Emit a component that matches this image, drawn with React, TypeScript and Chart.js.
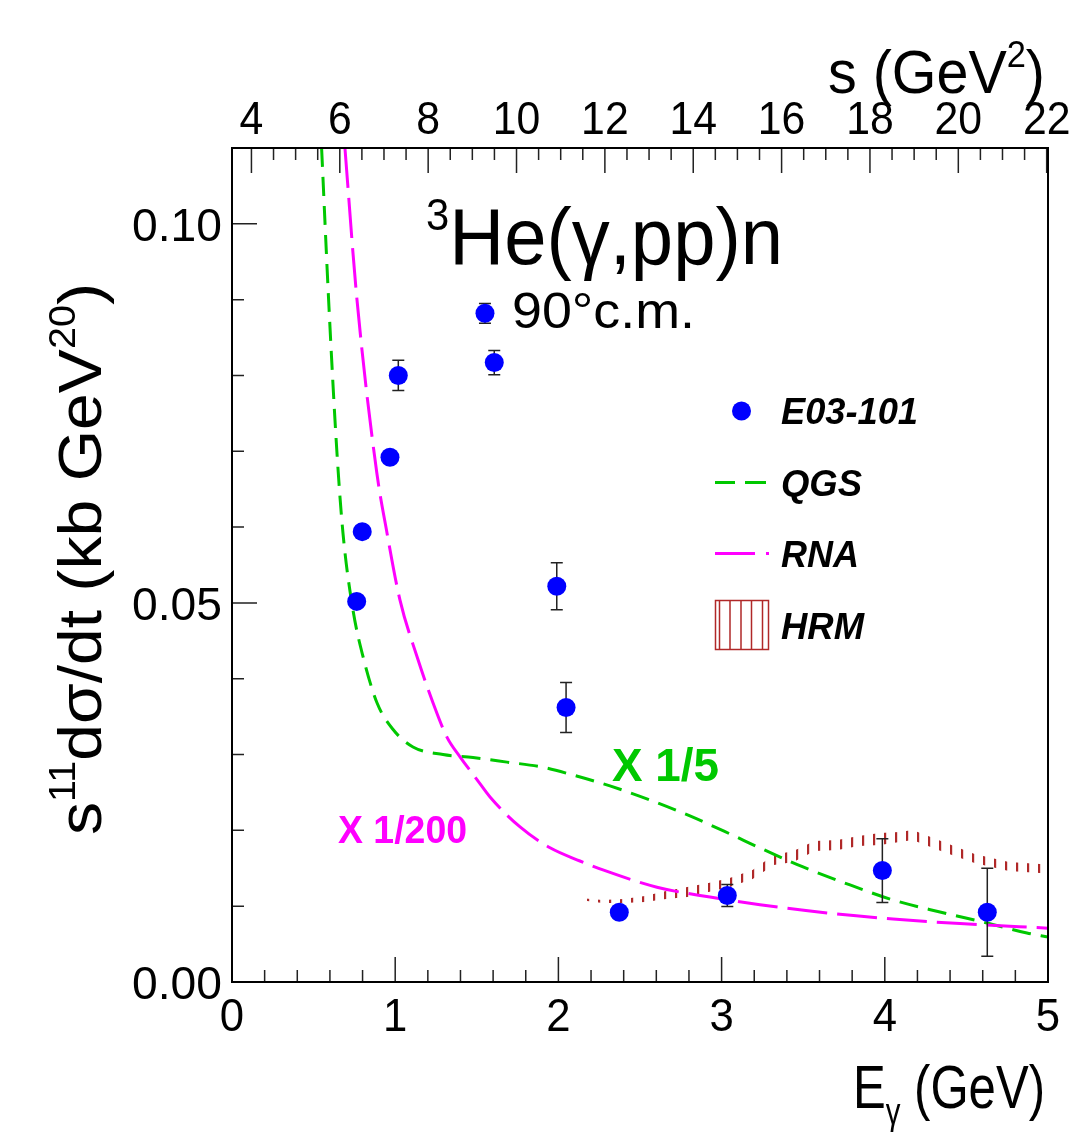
import { useEffect, useRef } from 'react';
import { Chart, registerables } from 'chart.js';

Chart.register(...registerables);

// E03-101 measurement: photon energy (GeV), scaled cross section, uncertainty
const photonEnergy = [0.764, 0.798, 0.968, 1.019, 1.55, 1.607, 1.99, 2.047, 2.373, 3.035, 3.985, 4.628];
const scaledXsec = [0.0502, 0.0594, 0.0692, 0.08, 0.0882, 0.0817, 0.0522, 0.0362, 0.0092, 0.0114, 0.0147, 0.0092];
const scaledXsecErr = [0.0006, 0.0006, 0.0006, 0.002, 0.0013, 0.0016, 0.0031, 0.0033, 0.0006, 0.00145, 0.0042, 0.0058];

// QGS prediction (x 1/5)
const qgsEnergy = [0.549, 0.594, 0.642, 0.68, 0.741, 0.803, 0.889, 0.987, 1.109, 1.293, 1.477, 1.685, 1.887, 2.09, 2.316, 2.561, 2.806, 3.051, 3.235, 3.499, 3.787, 4.05, 4.338, 4.626, 4.871, 5.0];
const qgsValue = [0.11, 0.0891, 0.0702, 0.0592, 0.0491, 0.0429, 0.0368, 0.0333, 0.031, 0.03, 0.0296, 0.029, 0.0284, 0.0273, 0.02586, 0.02401, 0.0219, 0.01953, 0.01768, 0.01517, 0.0128, 0.01082, 0.00923, 0.00778, 0.00646, 0.00594];

// RNA prediction (x 1/200)
const rnaEnergy = [0.692, 0.764, 0.887, 0.95, 1.029, 1.134, 1.232, 1.317, 1.397, 1.501, 1.581, 1.765, 1.949, 2.132, 2.273, 2.604, 2.929, 3.235, 3.646, 4.05, 4.461, 5.0];
const rnaValue = [0.11, 0.0904, 0.0672, 0.0592, 0.0504, 0.0429, 0.0368, 0.0323, 0.0297, 0.0267, 0.0244, 0.02045, 0.0177, 0.01596, 0.01478, 0.0125, 0.0112, 0.0102, 0.0091, 0.0083, 0.0077, 0.0071];

// HRM band
const hrmEnergy = [2.13, 2.27, 2.4, 2.53, 2.66, 2.79, 2.92, 3.05, 3.19, 3.32, 3.44, 3.57, 3.71, 3.84, 3.97, 4.09, 4.17, 4.36, 4.55, 4.76, 4.95, 5.0];
const hrmHigh = [0.01108, 0.01082, 0.01095, 0.01135, 0.01201, 0.01253, 0.01306, 0.01372, 0.01478, 0.01675, 0.01728, 0.0186, 0.01873, 0.01926, 0.01966, 0.01979, 0.02005, 0.01847, 0.01689, 0.01583, 0.01557, 0.01557];
const hrmLow = [0.01082, 0.01042, 0.01042, 0.01055, 0.01095, 0.01121, 0.01187, 0.01253, 0.01359, 0.01544, 0.01583, 0.01728, 0.01741, 0.01794, 0.01807, 0.01847, 0.01873, 0.01715, 0.0157, 0.01464, 0.01438, 0.01438];

// axes
const E_MIN = 0;
const E_MAX = 5;
const xTickValues = [0, 1, 2, 3, 4, 5];
const xTickLabels = ['0', '1', '2', '3', '4', '5'];
const xMinorStep = 0.2;
const Y_MIN = 0;
const Y_MAX = 0.11;
const yTickValues = [0, 0.05, 0.1];
const yTickLabels = ['0.00', '0.05', '0.10'];
const yMinorStep = 0.01;
const S_MIN = 3.56;
const S_MAX = 22.03;
const sTickValues = [4, 6, 8, 10, 12, 14, 16, 18, 20, 22];
const sTickLabels = ['4', '6', '8', '10', '12', '14', '16', '18', '20', '22'];
const sMinorStep = 0.5;

const FONT = '"Liberation Sans", Arial, Helvetica, sans-serif';
const BLUE = '#0000ff';
const GREEN = '#00c800';
const MAGENTA = '#ff00ff';
const HRM_RED = '#b02828';
const QGS_DASH = [19, 10];
const RNA_DASH = [40, 10];
const DATA_INDEX = 4;

type Seg = { t: string; k?: number; dy?: number };
type TextOpts = {
  align?: 'left' | 'right' | 'center';
  width?: number;
  sx?: number;
  weight?: string;
  style?: string;
  color?: string;
};

function richText(ctx: CanvasRenderingContext2D, segs: Seg[], x: number, y: number, size: number, opts: TextOpts = {}) {
  const font = (s: number) => `${opts.style || 'normal'} ${opts.weight || 'normal'} ${s}px ${FONT}`;
  let natural = 0;
  const widths = segs.map((sg) => {
    ctx.font = font(size * (sg.k ?? 1));
    const w = ctx.measureText(sg.t).width;
    natural += w;
    return w;
  });
  const sx = opts.width ? opts.width / natural : opts.sx ?? 0.93;
  const total = natural * sx;
  let x0 = x;
  if (opts.align === 'right') x0 = x - total;
  else if (opts.align === 'center') x0 = x - total / 2;
  ctx.save();
  ctx.translate(x0, y);
  ctx.scale(sx, 1);
  ctx.fillStyle = opts.color || '#000';
  ctx.textAlign = 'left';
  ctx.textBaseline = 'alphabetic';
  let cx = 0;
  segs.forEach((sg, i) => {
    ctx.font = font(size * (sg.k ?? 1));
    ctx.fillText(sg.t, cx, (sg.dy ?? 0) * size);
    cx += widths[i];
  });
  ctx.restore();
}

function hatchPattern(): CanvasPattern | string {
  const c = document.createElement('canvas');
  c.width = 11;
  c.height = 8;
  const g = c.getContext('2d');
  if (!g) return HRM_RED;
  g.fillStyle = HRM_RED;
  g.fillRect(4, 0, 2.2, 8);
  return g.createPattern(c, 'repeat') || HRM_RED;
}

const errorBars = {
  id: 'errorBars',
  beforeDatasetDraw(chart: any, args: any) {
    if (args.index !== DATA_INDEX) return;
    const { ctx } = chart;
    const xs = chart.scales.x;
    const ys = chart.scales.y;
    ctx.save();
    ctx.strokeStyle = '#222';
    ctx.lineWidth = 1.5;
    photonEnergy.forEach((e, i) => {
      const px = xs.getPixelForValue(e);
      const hi = ys.getPixelForValue(scaledXsec[i] + scaledXsecErr[i]);
      const lo = ys.getPixelForValue(scaledXsec[i] - scaledXsecErr[i]);
      ctx.beginPath();
      ctx.moveTo(px, hi);
      ctx.lineTo(px, lo);
      ctx.moveTo(px - 6, hi);
      ctx.lineTo(px + 6, hi);
      ctx.moveTo(px - 6, lo);
      ctx.lineTo(px + 6, lo);
      ctx.stroke();
    });
    ctx.restore();
  },
};

const frameAndText = {
  id: 'frameAndText',
  afterDraw(chart: any) {
    const { ctx, chartArea } = chart;
    const { left, right, top, bottom } = chartArea;
    const xs = chart.scales.x;
    const ys = chart.scales.y;
    const ss = chart.scales.s;
    ctx.save();

    // ticks
    ctx.strokeStyle = '#222';
    ctx.lineWidth = 1.5;
    ctx.beginPath();
    const nx = Math.round((E_MAX - E_MIN) / xMinorStep);
    for (let i = 0; i <= nx; i++) {
      const v = E_MIN + i * xMinorStep;
      const major = xTickValues.some((t) => Math.abs(t - v) < 1e-6);
      const px = xs.getPixelForValue(v);
      ctx.moveTo(px, bottom);
      ctx.lineTo(px, bottom - (major ? 25 : 12));
    }
    const ny = Math.round((Y_MAX - Y_MIN) / yMinorStep);
    for (let i = 0; i <= ny; i++) {
      const v = Y_MIN + i * yMinorStep;
      const major = yTickValues.some((t) => Math.abs(t - v) < 1e-6);
      const py = ys.getPixelForValue(v);
      ctx.moveTo(left, py);
      ctx.lineTo(left + (major ? 25 : 12), py);
    }
    const sStart = Math.ceil(S_MIN / sMinorStep);
    const sEnd = Math.floor(S_MAX / sMinorStep);
    for (let i = sStart; i <= sEnd; i++) {
      const v = i * sMinorStep;
      const major = sTickValues.some((t) => Math.abs(t - v) < 1e-6);
      const px = ss.getPixelForValue(v);
      ctx.moveTo(px, top);
      ctx.lineTo(px, top + (major ? 25 : 12));
    }
    ctx.stroke();

    // frame
    ctx.strokeStyle = '#000';
    ctx.lineWidth = 2;
    ctx.strokeRect(left, top, right - left, bottom - top);

    // tick labels
    xTickValues.forEach((v, i) => {
      richText(ctx, [{ t: xTickLabels[i] }], xs.getPixelForValue(v), bottom + 49, 47, { align: 'center' });
    });
    yTickValues.forEach((v, i) => {
      richText(ctx, [{ t: yTickLabels[i] }], left - 10, ys.getPixelForValue(v) + 17, 47, { align: 'right', width: 90 });
    });
    sTickValues.forEach((v, i) => {
      richText(ctx, [{ t: sTickLabels[i] }], ss.getPixelForValue(v), top - 14, 46, { align: 'center' });
    });

    // axis titles
    richText(ctx, [{ t: 's (GeV' }, { t: '2', k: 0.6, dy: -0.42 }, { t: ')' }], 1045, 93, 62, { align: 'right', width: 217 });
    richText(ctx, [{ t: 'E' }, { t: 'γ', k: 0.6, dy: 0.25 }, { t: ' (GeV)' }], 1045, 1108, 62, { align: 'right', width: 192 });
    ctx.save();
    ctx.translate(101, 559);
    ctx.rotate(-Math.PI / 2);
    richText(
      ctx,
      [{ t: 's' }, { t: '11', k: 0.6, dy: -0.42 }, { t: 'dσ/dt (kb GeV' }, { t: '20', k: 0.6, dy: -0.42 }, { t: ')' }],
      0,
      0,
      62,
      { align: 'center', width: 552 }
    );
    ctx.restore();

    // reaction and angle
    richText(ctx, [{ t: '3', k: 0.55, dy: -0.42 }, { t: 'He(γ,pp)n' }], 426, 264, 80, { align: 'left', width: 357 });
    richText(ctx, [{ t: '90°c.m.' }], 512, 328, 50, { align: 'left', width: 183 });

    // model scale factors
    richText(ctx, [{ t: 'X 1/5' }], 612, 781, 47, { align: 'left', width: 107, weight: 'bold', color: GREEN });
    richText(ctx, [{ t: 'X 1/200' }], 338, 843, 38, { align: 'left', width: 129, weight: 'bold', color: MAGENTA });

    // legend
    ctx.fillStyle = BLUE;
    ctx.beginPath();
    ctx.arc(741.5, 411, 9.5, 0, Math.PI * 2);
    ctx.fill();

    ctx.lineWidth = 3;
    ctx.strokeStyle = GREEN;
    ctx.beginPath();
    ctx.moveTo(715, 482.5);
    ctx.lineTo(735, 482.5);
    ctx.moveTo(745, 482.5);
    ctx.lineTo(766, 482.5);
    ctx.stroke();

    ctx.strokeStyle = MAGENTA;
    ctx.beginPath();
    ctx.moveTo(715, 553.5);
    ctx.lineTo(755, 553.5);
    ctx.moveTo(766, 553.5);
    ctx.lineTo(769, 553.5);
    ctx.stroke();

    ctx.strokeStyle = HRM_RED;
    ctx.lineWidth = 1.5;
    ctx.strokeRect(715.5, 600.5, 53, 49);
    ctx.beginPath();
    [719.5, 730, 741, 751.5, 762.5].forEach((lx) => {
      ctx.moveTo(lx, 600.5);
      ctx.lineTo(lx, 649.5);
    });
    ctx.stroke();

    const legendText: [string, number, number][] = [
      ['E03-101', 424, 137],
      ['QGS', 496, 81],
      ['RNA', 567, 78],
      ['HRM', 639, 83],
    ];
    legendText.forEach(([t, y, w]) => {
      richText(ctx, [{ t }], 781, y, 36, { align: 'left', width: w, weight: 'bold', style: 'italic' });
    });

    ctx.restore();
  },
};

export default function App() {
  const canvasRef = useRef<HTMLCanvasElement | null>(null);

  useEffect(() => {
    document.body.style.margin = '0';
    const canvas = canvasRef.current;
    if (!canvas) return;
    const toPoints = (xsArr: number[], ysArr: number[]) => xsArr.map((x, i) => ({ x, y: ysArr[i] }));

    const chart = new Chart(canvas, {
      type: 'scatter',
      data: {
        datasets: [
          {
            label: 'HRM low',
            data: toPoints(hrmEnergy, hrmLow),
            showLine: true,
            borderWidth: 0,
            borderColor: 'rgba(0,0,0,0)',
            pointRadius: 0,
            fill: false,
            order: 4,
          },
          {
            label: 'HRM',
            data: toPoints(hrmEnergy, hrmHigh),
            showLine: true,
            borderWidth: 0,
            borderColor: 'rgba(0,0,0,0)',
            backgroundColor: hatchPattern(),
            pointRadius: 0,
            fill: '-1',
            order: 3,
          },
          {
            label: 'QGS',
            data: toPoints(qgsEnergy, qgsValue),
            showLine: true,
            borderColor: GREEN,
            borderWidth: 3,
            borderDash: QGS_DASH,
            pointRadius: 0,
            cubicInterpolationMode: 'monotone',
            fill: false,
            order: 2,
          },
          {
            label: 'RNA',
            data: toPoints(rnaEnergy, rnaValue),
            showLine: true,
            borderColor: MAGENTA,
            borderWidth: 3,
            borderDash: RNA_DASH,
            pointRadius: 0,
            cubicInterpolationMode: 'monotone',
            fill: false,
            order: 1,
          },
          {
            label: 'E03-101',
            data: toPoints(photonEnergy, scaledXsec),
            showLine: false,
            pointRadius: 9.5,
            pointBackgroundColor: BLUE,
            pointBorderColor: BLUE,
            pointBorderWidth: 0,
            order: 0,
          },
        ],
      },
      options: {
        animation: false,
        responsive: false,
        devicePixelRatio: 1,
        events: [],
        layout: { padding: { left: 232, top: 148, right: 37, bottom: 150 } },
        plugins: { legend: { display: false }, tooltip: { enabled: false } },
        scales: {
          x: { type: 'linear', min: E_MIN, max: E_MAX, display: false },
          y: { type: 'linear', min: Y_MIN, max: Y_MAX, display: false },
          s: { type: 'linear', axis: 'x', position: 'top', min: S_MIN, max: S_MAX, display: false },
        },
      },
      plugins: [errorBars, frameAndText],
    } as any);

    return () => chart.destroy();
  }, []);

  return (
    <div style={{ position: 'absolute', left: 0, top: 0, width: 1085, height: 1132, background: '#fff' }}>
      <canvas ref={canvasRef} width={1085} height={1132} style={{ display: 'block' }} />
    </div>
  );
}
